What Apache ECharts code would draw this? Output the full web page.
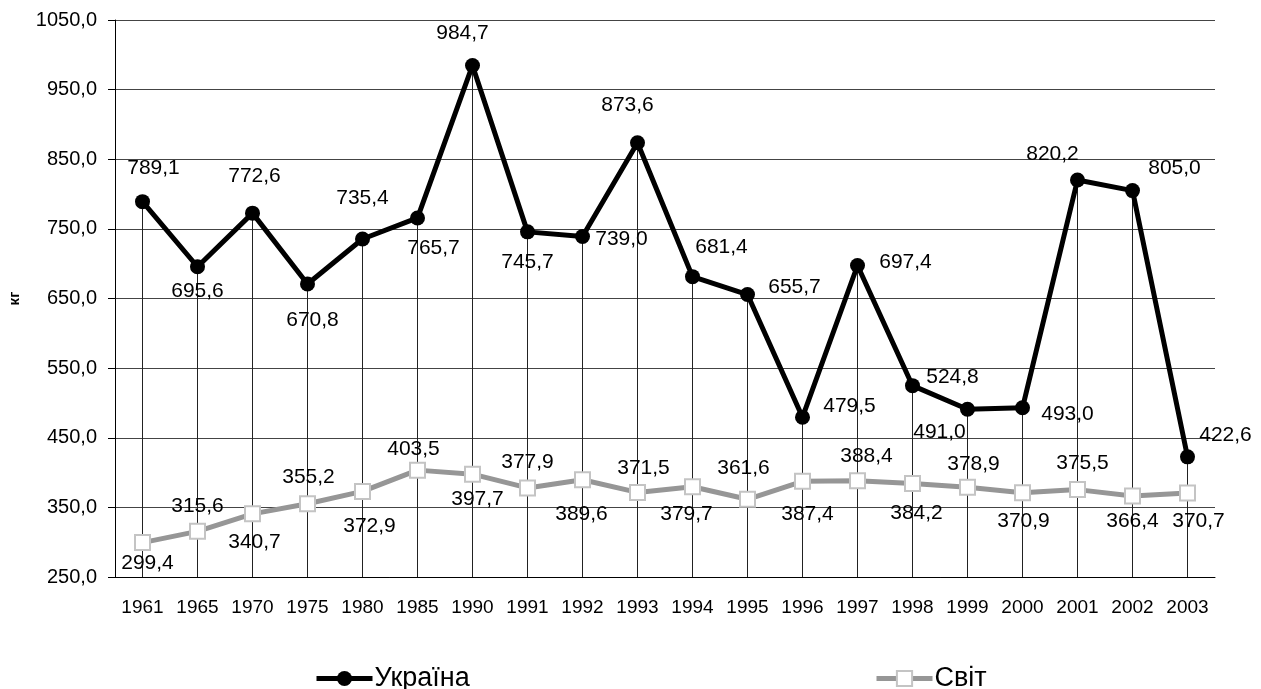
<!DOCTYPE html>
<html>
<head>
<meta charset="utf-8">
<script src="https://cdn.jsdelivr.net/npm/echarts@6/dist/echarts.min.js"></script>
<style>
html,body{margin:0;padding:0;background:#fff;}
#chart{width:1261px;height:689px;}
</style>
</head>
<body>
<div id="chart"></div>
<script>
// ---- data ----
var years = ['1961','1965','1970','1975','1980','1985','1990','1991','1992','1993','1994','1995','1996','1997','1998','1999','2000','2001','2002','2003'];
var ukraine = [789.1,695.6,772.6,670.8,735.4,765.7,984.7,745.7,739.0,873.6,681.4,655.7,479.5,697.4,524.8,491.0,493.0,820.2,805.0,422.6];
var world = [299.4,315.6,340.7,355.2,372.9,403.5,397.7,377.9,389.6,371.5,379.7,361.6,387.4,388.4,384.2,378.9,370.9,375.5,366.4,370.7];
var seriesNames = ['Україна','Світ'];
var yTicks = {min:250, max:1050, step:100};
var yName = 'кг';

// ---- label placement (layout only) ----
var ukrLabelShift = [[11,-33],[0,24],[2,-37],[5,36],[0,-41],[16,30],[-10,-32],[0,30],[39,3],[-10,-38],
                     [29,-29],[47,-7],[47,-11],[48,-3],[40,-8],[-28,23],[45,6],[-25,-26],[42,-22],[38,-22]];
var worldLabelShift = [[5,21],[0,-25],[2,28],[1,-27],[7,35],[-4,-21],[5,25],[0,-26],[-1,34],[6,-24],
                       [-6,28],[-4,-31],[5,33],[9,-24],[4,30],[6,-23],[1,28],[5,-26],[0,25],[11,28]];

var FONT = '"Liberation Sans", Arial, sans-serif';
function fmt(v){ return v.toFixed(1).replace('.', ','); }

function withLabels(values, shifts){
  return values.map(function(v, i){
    return {value: v, label: {offset: shifts[i]}};
  });
}

var chart = echarts.init(document.getElementById('chart'), null, {renderer:'canvas'});
chart.setOption({
  animation: false,
  backgroundColor: '#fff',
  grid: {left: 115, right: 46, top: 20, bottom: 112, containLabel: false, outerBoundsMode: 'none'},
  legend: [
    {data: [seriesNames[0]], left: 309, top: 660, itemWidth: 56, itemHeight: 19, itemGap: 0,
     lineStyle: {width: 5},
     textStyle: {fontFamily: FONT, fontSize: 27, color: '#000', padding:[0,0,0,-3]}},
    {data: [seriesNames[1]], left: 869, top: 660, itemWidth: 56, itemHeight: 19, itemGap: 0,
     lineStyle: {width: 5},
     textStyle: {fontFamily: FONT, fontSize: 27, color: '#000', padding:[0,0,0,-3]}}
  ],
  xAxis: {
    type: 'category',
    data: years,
    boundaryGap: true,
    axisLine: {lineStyle: {color: '#000', width: 1}},
    axisTick: {show: false},
    axisLabel: {fontFamily: FONT, fontSize: 19, color: '#000', margin: 21, interval: 0}
  },
  yAxis: {
    type: 'value',
    min: yTicks.min, max: yTicks.max, interval: yTicks.step,
    name: yName,
    nameLocation: 'middle',
    nameGap: 93,
    nameRotate: 90,
    nameTextStyle: {fontFamily: FONT, fontSize: 15, fontWeight: 'bold', color: '#000'},
    axisLine: {show: true, lineStyle: {color: '#000', width: 1}},
    axisTick: {show: true, length: 7, inside: false, lineStyle: {color: '#000'}},
    axisLabel: {fontFamily: FONT, fontSize: 20, color: '#000', margin: 18, formatter: function(v){ return fmt(v); }},
    splitLine: {show: true, lineStyle: {color: '#444', width: 1}}
  },
  series: [
    {
      name: 'drop',
      type: 'bar',
      data: ukraine,
      barWidth: 1,
      itemStyle: {color: '#222'},
      silent: true,
      z: 1,
      clip: true,
      label: {show: false}
    },
    {
      name: seriesNames[1],
      type: 'line',
      data: withLabels(world, worldLabelShift),
      symbol: 'rect',
      symbolSize: 15,
      lineStyle: {color: '#969696', width: 5},
      itemStyle: {color: '#fff', borderColor: '#c4c4c4', borderWidth: 2},
      z: 3,
      label: {show: true, position: 'inside', fontFamily: FONT, fontSize: 21, color: '#000',
              formatter: function(p){ return fmt(p.value); }}
    },
    {
      name: seriesNames[0],
      type: 'line',
      data: withLabels(ukraine, ukrLabelShift),
      symbol: 'circle',
      symbolSize: 15,
      lineStyle: {color: '#000', width: 5},
      itemStyle: {color: '#000'},
      z: 4,
      label: {show: true, position: 'inside', fontFamily: FONT, fontSize: 21, color: '#000',
              formatter: function(p){ return fmt(p.value); }}
    }
  ]
});
</script>
</body>
</html>
